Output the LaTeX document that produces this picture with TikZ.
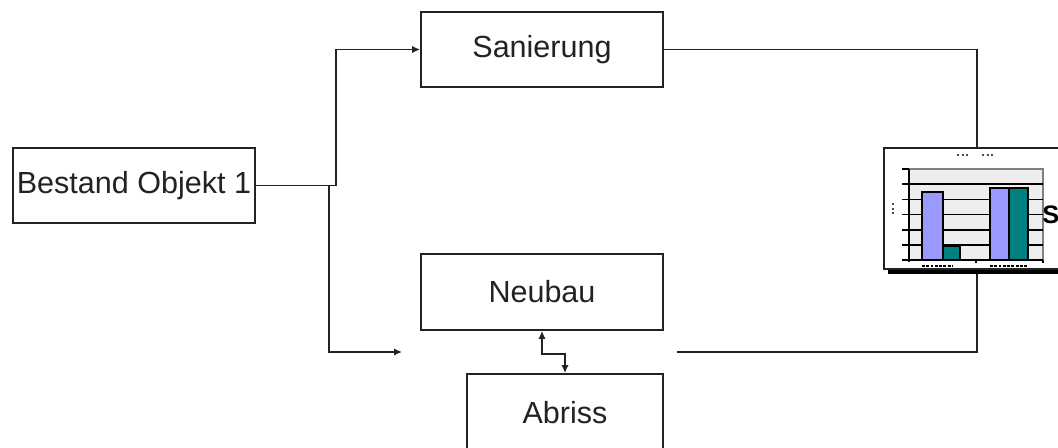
\documentclass[tikz,border=0pt]{standalone}
\usepackage{fontspec}
\setmainfont{Liberation Sans}
\usetikzlibrary{arrows.meta,calc}
\definecolor{barpurple}{HTML}{9999FF}
\definecolor{barteal}{HTML}{008080}
\definecolor{plotgray}{HTML}{EEEEEE}
\definecolor{ink}{HTML}{222222}
\begin{document}
\begin{tikzpicture}[x=0.75pt,y=-0.75pt,
  box/.style={draw=ink, line width=1.3pt, fill=white, inner sep=0pt,
    text=ink, font=\fontsize{22.9}{27}\selectfont},
  conn/.style={draw=ink, line width=1.4pt},
  tip/.style={-{Latex[length=6pt,width=5.5pt]}},
  grid line/.style={draw=black, line width=1.4pt},
  bar/.style={draw=black, line width=1.2pt}]
\useasboundingbox (0,0) rectangle (1058,448);
\clip (0,0) rectangle (1058,448);

% boxes
\node[box, minimum width={242*0.75pt}, minimum height={75*0.75pt}] (bestand) at (134,185.5) {Bestand Objekt 1};
\node[box, minimum width={242*0.75pt}, minimum height={75*0.75pt}] (sanierung) at (542,49.5) {Sanierung};
\node[box, minimum width={242*0.75pt}, minimum height={76*0.75pt}] (neubau) at (542,292) {Neubau};
\node[box, minimum width={196*0.75pt}, minimum height={78*0.75pt}] (abriss) at (565,413) {Abriss};

% chart frame with shadow
\fill[black] (888,152) rectangle (1074,274);
\node[draw=ink, line width=1pt, fill=white, minimum width={186*0.75pt}, minimum height={121*0.75pt}, inner sep=0pt] (chart) at (977,208.5) {};

% chart contents
\fill[plotgray] (909,169) rectangle (1043,260);
\draw[gray, line width=0.8pt] (909,169) rectangle (1043,260);
\foreach \yy in {184,199.5,214.5,230,245} \draw[grid line] (909,\yy) -- (1043,\yy);
\foreach \yy in {169,184,199.5,214.5,230,245,260} \draw[black, line width=1.4pt] (902,\yy) -- (909,\yy);
\draw[black, line width=1.4pt] (909,169) -- (909,262);
\draw[black, line width=1.4pt] (909,260) -- (1043,260);
\draw[black, line width=1.2pt] (976,260) -- (976,263);
\draw[black, line width=1.2pt] (1043,260) -- (1043,263);
\draw[bar, fill=barpurple] (922,192) rectangle (943,260);
\draw[bar, fill=barteal] (943,246) rectangle (960,260);
\draw[bar, fill=barpurple] (990,188) rectangle (1009,260);
\draw[bar, fill=barteal] (1009,188) rectangle (1028,260);
% tiny unreadable labels
\draw[black, line width=1.5pt, dash pattern=on 2.2pt off 1pt] (922,266) -- (953,266);
\draw[black, line width=1.5pt, dash pattern=on 2.2pt off 1pt] (990,266) -- (1027,266);
\draw[black!70, line width=1.2pt, dash pattern=on 1.5pt off 2pt] (957,155) -- (970,155);
\draw[black!70, line width=1.2pt, dash pattern=on 1.5pt off 2pt] (982,155) -- (993,155);
\draw[black!70, line width=1.2pt, dash pattern=on 1.5pt off 2pt] (893,203) -- (893,216);
\node[anchor=west, inner sep=0pt, font=\bfseries\fontsize{19}{19}\selectfont] (legend) at (1042,215) {S};

% connectors
\coordinate (splitup) at (336,185.5);
\coordinate (splitdown) at (329,185.5);
\coordinate (lowend) at (402,352);
\coordinate (lowstart) at (677,352);
\draw[conn, tip] (bestand.east) -- (splitup) |- (sanierung.west);
\draw[conn, tip] (splitdown) |- (lowend);
\draw[conn] (sanierung.east) -| (chart.north);
\draw[conn] (lowstart) -| ($(chart.south)+(0,4)$);
\draw[conn, {Latex[length=6pt,width=5.5pt]}-{Latex[length=6pt,width=5.5pt]}] (neubau.south) -- ++(0,23) -| (abriss.north);
\end{tikzpicture}
\end{document}
